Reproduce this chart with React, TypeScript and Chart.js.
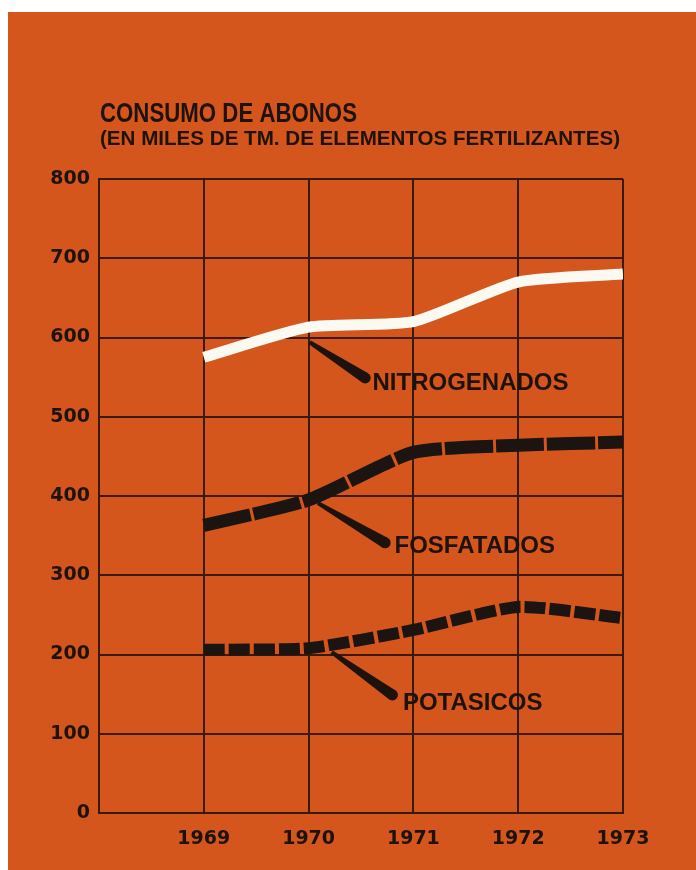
import React, { useEffect, useRef } from "react";
import { Chart, registerables } from "chart.js";

Chart.register(...registerables);

// ---- Data ----
const years = [1969, 1970, 1971, 1972, 1973];
const nitrogenados = [575, 613, 620, 670, 680];
const fosfatados = [363, 395, 455, 464, 468];
const potasicos = [206, 208, 231, 260, 246];
const yMin = 0;
const yMax = 800;
const yStep = 100;
const xMin = 1968;

const titleText = "CONSUMO DE ABONOS";
const subtitleText = "(EN MILES DE TM. DE ELEMENTOS FERTILIZANTES)";
const seriesNames = ["NITROGENADOS", "FOSFATADOS", "POTASICOS"];
// pointer wedges and labels, in data coordinates (year, value)
const pointerFrom = [
  [1970.01, 594],
  [1970.09, 391],
  [1970.22, 203],
];
const pointerTo = [
  [1970.54, 549],
  [1970.73, 341],
  [1970.8, 149],
];
const labelAt = [
  [1970.61, 543],
  [1970.82, 338],
  [1970.9, 140],
];

// ---- Styles ----
const ORANGE = "#D4561C";
const INK = "#1e120c";
const GRID = "#3a1a0c";

function drawSqueezed(ctx: CanvasRenderingContext2D, text: string, x: number, y: number, font: string, targetW: number) {
  ctx.save();
  ctx.font = font;
  const w = ctx.measureText(text).width;
  ctx.translate(x, y);
  ctx.scale(targetW / w, 1);
  ctx.textBaseline = "alphabetic";
  ctx.textAlign = "left";
  ctx.fillStyle = INK;
  ctx.fillText(text, 0, 0);
  ctx.restore();
}

const annotPlugin = {
  id: "annot",
  beforeDatasetsDraw(chart: any) {
    const ctx = chart.ctx as CanvasRenderingContext2D;
    const xs = chart.scales.x;
    const ys = chart.scales.y;
    ctx.save();
    ctx.fillStyle = INK;
    for (let i = 0; i < pointerFrom.length; i++) {
      const x0 = xs.getPixelForValue(pointerFrom[i][0]);
      const y0 = ys.getPixelForValue(pointerFrom[i][1]);
      const x1 = xs.getPixelForValue(pointerTo[i][0]);
      const y1 = ys.getPixelForValue(pointerTo[i][1]);
      const dx = x1 - x0;
      const dy = y1 - y0;
      const len = Math.hypot(dx, dy);
      const nx = -dy / len;
      const ny = dx / len;
      const w0 = 2;
      const w1 = 5.5;
      ctx.beginPath();
      ctx.moveTo(x0 + nx * w0, y0 + ny * w0);
      ctx.lineTo(x1 + nx * w1, y1 + ny * w1);
      ctx.lineTo(x1 - nx * w1, y1 - ny * w1);
      ctx.lineTo(x0 - nx * w0, y0 - ny * w0);
      ctx.closePath();
      ctx.fill();
      ctx.beginPath();
      ctx.arc(x1, y1, w1, 0, Math.PI * 2);
      ctx.fill();
    }
    ctx.restore();
  },
  afterDraw(chart: any) {
    const ctx = chart.ctx as CanvasRenderingContext2D;
    const xs = chart.scales.x;
    const ys = chart.scales.y;
    const area = chart.chartArea;
    ctx.save();
    ctx.fillStyle = INK;
    ctx.font = "bold 24px 'Liberation Sans', Arial, sans-serif";
    ctx.textBaseline = "middle";
    ctx.textAlign = "left";
    for (let i = 0; i < seriesNames.length; i++) {
      const x = xs.getPixelForValue(labelAt[i][0]);
      const y = ys.getPixelForValue(labelAt[i][1]);
      ctx.fillText(seriesNames[i], x, y + 1);
    }
    ctx.restore();
    drawSqueezed(ctx, titleText, area.left + 1, area.top - 57, "bold 28px 'Liberation Sans', Arial, sans-serif", 257);
    drawSqueezed(ctx, subtitleText, area.left + 1, area.top - 34, "bold 20px 'Liberation Sans', Arial, sans-serif", 520);
  },
};

export default function App() {
  const ref = useRef<HTMLCanvasElement | null>(null);

  useEffect(() => {
    if (!ref.current) return;
    const mk = (vals: number[]) => years.map((y, i) => ({ x: y, y: vals[i] }));
    const chart = new Chart(ref.current, {
      type: "line",
      data: {
        datasets: [
          {
            label: seriesNames[0],
            data: mk(nitrogenados),
            borderColor: "#fbfaf2",
            borderWidth: 11,
            pointRadius: 0,
            tension: 0.2,
            borderCapStyle: "butt",
            borderJoinStyle: "round",
          },
          {
            label: seriesNames[1],
            data: mk(fosfatados),
            borderColor: "#1c1410",
            borderWidth: 13,
            borderDash: [48, 3],
            pointRadius: 0,
            tension: 0.2,
            borderCapStyle: "butt",
          },
          {
            label: seriesNames[2],
            data: mk(potasicos),
            borderColor: "#1c1410",
            borderWidth: 12,
            borderDash: [21, 4],
            pointRadius: 0,
            tension: 0.2,
            borderCapStyle: "butt",
          },
        ],
      },
      options: {
        animation: false,
        responsive: false,
        devicePixelRatio: 1,
        layout: { padding: { top: 167, right: 73, left: 0, bottom: 0 } },
        plugins: {
          legend: { display: false },
          title: { display: false },
          tooltip: { enabled: false },
        },
        scales: {
          x: {
            type: "linear",
            min: xMin,
            max: years[years.length - 1],
            afterFit: (s: any) => {
              s.height = 57;
            },
            ticks: {
              stepSize: 1,
              autoSkip: false,
              maxRotation: 0,
              padding: 15,
              color: INK,
              font: { family: "'DejaVu Sans', sans-serif", size: 19, weight: "bold" },
              callback: (v: any) => (Number(v) === xMin ? "" : String(v)),
            },
            grid: { color: GRID, lineWidth: 2, drawTicks: false },
            border: { color: GRID, width: 2 },
          },
          y: {
            min: yMin,
            max: yMax,
            afterFit: (s: any) => {
              s.width = 91;
            },
            ticks: {
              stepSize: yStep,
              padding: 9,
              color: INK,
              font: { family: "'DejaVu Sans', sans-serif", size: 19, weight: "bold" },
            },
            grid: { color: GRID, lineWidth: 2, drawTicks: false },
            border: { color: GRID, width: 2 },
          },
        },
      },
      plugins: [annotPlugin],
    } as any);
    return () => chart.destroy();
  }, []);

  return (
    <div
      style={{
        position: "fixed",
        left: 8,
        top: 12,
        width: 688,
        height: 858,
        background: ORANGE,
      }}
    >
      <canvas ref={ref} width={688} height={858} style={{ display: "block" }} />
    </div>
  );
}
